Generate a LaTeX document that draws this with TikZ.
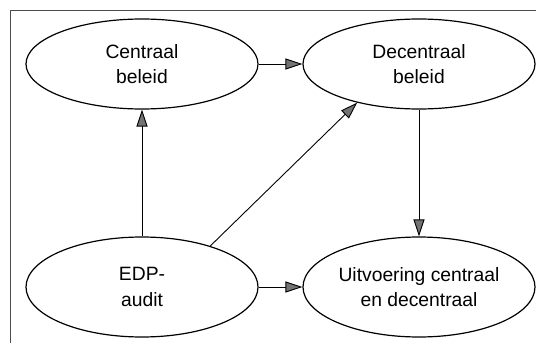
\documentclass[tikz,border=0pt]{standalone}
\usepackage{fontspec}
\setmainfont{Liberation Sans}
\usetikzlibrary{shapes.geometric,arrows.meta}
\tikzset{
  bubble/.style={ellipse, draw=black, line width=1.2pt, minimum width=232pt,
    minimum height=#1, inner sep=0pt, align=center,
    font=\fontsize{19.3}{25.5}\selectfont},
  link/.style={draw=black, line width=0.9pt,
    -{Triangle[length=17pt, width=11pt, fill=black!55]}},
  frameline/.style={draw=black!70, line width=0.8pt}
}
\begin{document}
\begin{tikzpicture}[x=1pt, y=-1pt]
  \useasboundingbox (0,0) rectangle (536,343);
  % outer frame (top and left edges)
  \draw[frameline] (10,343) -- (10,10) -- (536,10);
  % the four blocks
  \node[bubble=90pt] (cb) at (142,64) {Centraal\\beleid};
  \node[bubble=90pt] (db) at (419,64) {Decentraal\\beleid};
  \node[bubble=100pt] (ea) at (142,287) {EDP-\\audit};
  \node[bubble=100pt] (uv) at (419,287) {Uitvoering centraal\\en decentraal};
  % connectors
  \draw[link] (cb) -- (db);
  \draw[link] (ea) -- (cb);
  \draw[link] (ea.31.6) -- (db.212.4);
  \draw[link] (db) -- (uv);
  \draw[link] (ea) -- (uv);
\end{tikzpicture}
\end{document}
